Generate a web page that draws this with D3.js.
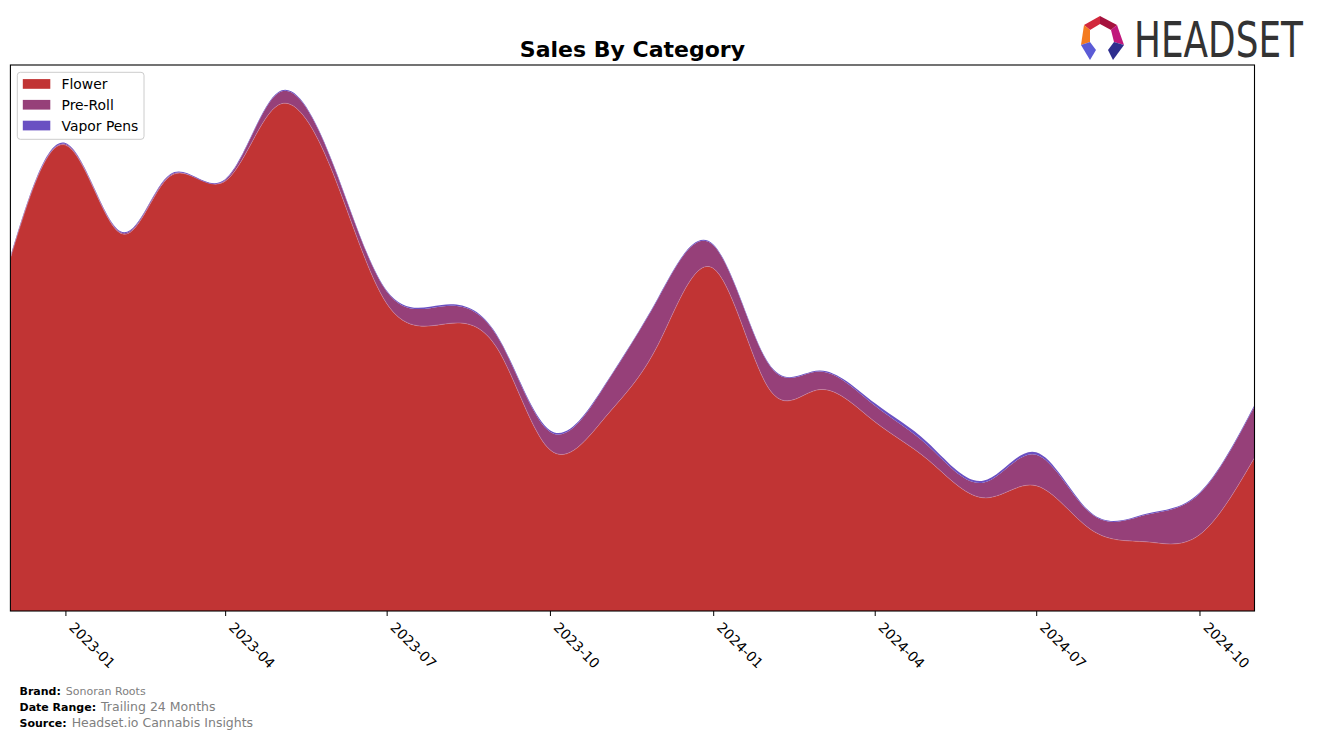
<!DOCTYPE html>
<html>
<head>
<meta charset="utf-8">
<script src="https://cdn.jsdelivr.net/npm/d3@7/dist/d3.min.js"></script>
<style>
  html, body { margin: 0; padding: 0; background: #fff; }
  svg { display: block; }
</style>
</head>
<body>
<svg id="chart" width="1317" height="739"></svg>
<script>
// ---------------- DATA ----------------
const months = ["2022-12","2023-01","2023-02","2023-03","2023-04","2023-05","2023-06","2023-07",
  "2023-08","2023-09","2023-10","2023-11","2023-12","2024-01","2024-02","2024-03","2024-04",
  "2024-05","2024-06","2024-07","2024-08","2024-09","2024-10","2024-11"];
const categories = ["Flower", "Pre-Roll", "Vapor Pens"];
const flower    = [352,465,377,434,429,505,436,307,286,263,161,193,266,342,223,221,189,151,113,125, 81, 69, 76,153];
const preRoll   = [0.5,  1,  1,  1,  1, 12,  9, 12, 18, 12, 18, 32, 46, 23, 24, 18, 16, 14, 15, 31, 16, 27, 41, 51];
const vaporPens = [1,    1,  1,  1,  1,  1,  1,  1,1.5,  1,1.5,  1,  1,  1,  1,  1,2.5,  3,  2,2.5,  1,  1,  1,1.5];
const tickLabels = ["2023-01","2023-04","2023-07","2023-10","2024-01","2024-04","2024-07","2024-10"];
const colors = ["#c13434", "#964079", "#6a50c2"];
const title = "Sales By Category";
const footer = [
  {label: "Brand:", value: "Sonoran Roots"},
  {label: "Date Range:", value: "Trailing 24 Months"},
  {label: "Source:", value: "Headset.io Cannabis Insights"}
];

// ---------------- LAYOUT ----------------
const svg = d3.select("#chart");
const W = 1317, H = 739;
const plot = {left: 10.4, right: 1254.5, top: 65, bottom: 611};
const parse = d3.utcParse("%Y-%m");
const rows = months.map((m, i) => ({date: parse(m), "Flower": flower[i], "Pre-Roll": preRoll[i], "Vapor Pens": vaporPens[i]}));

const x = d3.scaleUtc()
  .domain(d3.extent(rows, d => d.date))
  .range([plot.left, plot.right]);

const series = d3.stack().keys(categories)(rows);
const maxTotal = d3.max(series[series.length - 1], d => d[1]);
const y = d3.scaleLinear().domain([0, maxTotal * 1.052]).range([plot.bottom, plot.top]);

const area = d3.area()
  .x(d => x(d.data.date))
  .y0(d => y(d[0]))
  .y1(d => y(d[1]))
  .curve(d3.curveNatural);
const topLine = d3.line()
  .x(d => x(d.data.date))
  .y(d => y(d[1]))
  .curve(d3.curveNatural);

svg.append("rect").attr("width", W).attr("height", H).attr("fill", "#fff");

const defs = svg.append("defs");
defs.append("clipPath").attr("id", "plotclip")
  .append("rect")
  .attr("x", plot.left).attr("y", plot.top)
  .attr("width", plot.right - plot.left).attr("height", plot.bottom - plot.top);

const pg = svg.append("g").attr("clip-path", "url(#plotclip)");
pg.selectAll("path.layer")
  .data(series)
  .join("path")
  .attr("class", "layer")
  .attr("d", area)
  .attr("fill", (d, i) => colors[i]);
// faint seam between Flower and Pre-Roll (anti-aliased edge in the original)
pg.append("path")
  .attr("d", topLine(series[0]))
  .attr("fill", "none")
  .attr("stroke", "#d9a0b8")
  .attr("stroke-opacity", 0.55)
  .attr("stroke-width", 0.7);

// axis
const tickDates = tickLabels.map(t => parse(t));
const xAxis = d3.axisBottom(x)
  .tickValues(tickDates)
  .tickFormat(d3.utcFormat("%Y-%m"))
  .tickSize(5)
  .tickSizeOuter(0);

const gx = svg.append("g")
  .attr("transform", `translate(0,${plot.bottom})`)
  .call(xAxis);
gx.select(".domain").remove();
gx.selectAll(".tick line").attr("stroke", "#000").attr("stroke-width", 1);
gx.selectAll(".tick text")
  .attr("font-family", "DejaVu Sans, sans-serif")
  .attr("font-size", "13.9px")
  .attr("fill", "#000")
  .attr("text-anchor", "start")
  .attr("dy", null)
  .attr("y", null)
  .attr("x", null)
  .attr("transform", "translate(2.4,17.2) rotate(45)");

// spines
svg.append("rect")
  .attr("x", plot.left).attr("y", plot.top)
  .attr("width", plot.right - plot.left).attr("height", plot.bottom - plot.top)
  .attr("fill", "none").attr("stroke", "#000").attr("stroke-width", 1.1);

// title
svg.append("text")
  .attr("x", (plot.left + plot.right) / 2).attr("y", 57)
  .attr("text-anchor", "middle")
  .attr("font-family", "DejaVu Sans, sans-serif")
  .attr("font-weight", "bold")
  .attr("font-size", "22px")
  .attr("fill", "#000")
  .text(title);

// legend
const lg = svg.append("g");
lg.append("rect")
  .attr("x", 17.3).attr("y", 72.3).attr("width", 126.7).attr("height", 67)
  .attr("rx", 3).attr("ry", 3)
  .attr("fill", "#fff").attr("fill-opacity", 0.8)
  .attr("stroke", "#cccccc").attr("stroke-width", 1);
categories.forEach((c, i) => {
  const cy = 84 + i * 20.8;
  lg.append("rect").attr("x", 22.8).attr("y", cy - 4.9).attr("width", 27.5).attr("height", 9.7)
    .attr("fill", colors[i]);
  lg.append("text").attr("x", 61.5).attr("y", cy + 5)
    .attr("font-family", "DejaVu Sans, sans-serif").attr("font-size", "13.9px")
    .attr("fill", "#000").text(c);
});

// footer
const fy = [695, 711, 726.5];
const fs = [11, 12.5, 12.5];
footer.forEach((f, i) => {
  const t = svg.append("text").attr("x", 19.5).attr("y", fy[i])
    .attr("font-family", "DejaVu Sans, sans-serif");
  t.append("tspan").attr("font-weight", "bold").attr("font-size", "11px").attr("fill", "#000").text(f.label);
  t.append("tspan").attr("dx", 5).attr("font-size", fs[i] + "px").attr("fill", "#808080").text(f.value);
});

// logo
const logo = svg.append("g");
const icon = [
  {pts: [[1084,25],[1100,16],[1100,24],[1090,30]], c: "#d2283c"},
  {pts: [[1100,16],[1117,25],[1111,30],[1100,24]], c: "#a5123e"},
  {pts: [[1084,25],[1090,30],[1090,42],[1081,45]], c: "#f47b20"},
  {pts: [[1117,25],[1124,45],[1114,42],[1111,30]], c: "#c0187c"},
  {pts: [[1081,45],[1090,42],[1096,50],[1090,60]], c: "#5b5bd6"},
  {pts: [[1124,45],[1114,42],[1108,50],[1113,60]], c: "#2e2e8e"}
];
logo.selectAll("polygon").data(icon).join("polygon")
  .attr("points", d => d.pts.map(p => p.join(",")).join(" "))
  .attr("fill", d => d.c);
const logoText = logo.append("text")
  .attr("x", 0).attr("y", 0)
  .attr("font-family", "DejaVu Sans Condensed, DejaVu Sans, sans-serif")
  .attr("font-size", "50px")
  .attr("fill", "#333333")
  .text("HEADSET");
const natural = logoText.node().getComputedTextLength() || 212;
logoText.attr("transform", `translate(1134,57) scale(${169 / natural},1)`);
</script>
</body>
</html>
